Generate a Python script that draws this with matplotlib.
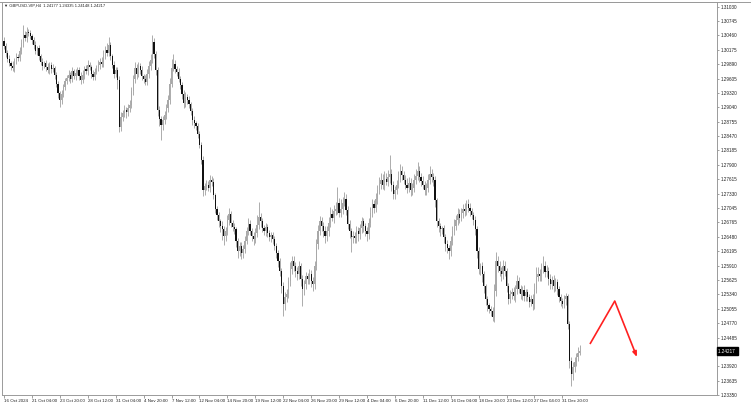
import numpy as np
import matplotlib.pyplot as plt
from matplotlib.transforms import blended_transform_factory

# GBPUSD H4 closes (bar index 0 = 16 Oct 2024)
first_open = 1.3035
closes = [
    1.3025, 1.3012, 1.3000, 1.2991, 1.2986, 1.2982, 1.2995, 1.3004, 1.3002, 1.3015,
    1.3030, 1.3047, 1.3040, 1.3052, 1.3050, 1.3044, 1.3036, 1.3027, 1.3015, 1.3020,
    1.3005, 1.2994, 1.2986, 1.2991, 1.2983, 1.2978, 1.2988, 1.2979, 1.2982, 1.2968,
    1.2950, 1.2932, 1.2919, 1.2930, 1.2944, 1.2955, 1.2962, 1.2968, 1.2960, 1.2975,
    1.2966, 1.2972, 1.2978, 1.2965, 1.2958, 1.2968, 1.2980, 1.2975, 1.2988, 1.2983,
    1.2970, 1.2964, 1.2974, 1.2982, 1.2988, 1.2994, 1.2990, 1.3005, 1.3017, 1.3012,
    1.3027, 1.3005, 1.2988, 1.2970, 1.2978, 1.2958, 1.2864, 1.2885, 1.2892, 1.2899,
    1.2894, 1.2903, 1.2909, 1.2935, 1.2960, 1.2982, 1.2970, 1.2985, 1.2978, 1.2965,
    1.2960, 1.2954, 1.2970, 1.2985, 1.2998, 1.3033, 1.3010, 1.2978, 1.2899, 1.2880,
    1.2869, 1.2878, 1.2889, 1.2902, 1.2919, 1.2950, 1.2982, 1.2990, 1.2980, 1.2974,
    1.2960, 1.2948, 1.2930, 1.2913, 1.2925, 1.2919, 1.2910, 1.2896, 1.2879, 1.2872,
    1.2866, 1.2850, 1.2830, 1.2800, 1.2741, 1.2748, 1.2751, 1.2745, 1.2760, 1.2757,
    1.2730, 1.2702, 1.2690, 1.2678, 1.2670, 1.2663, 1.2650, 1.2659, 1.2680, 1.2692,
    1.2675, 1.2668, 1.2663, 1.2640, 1.2619, 1.2630, 1.2615, 1.2623, 1.2640, 1.2660,
    1.2673, 1.2660, 1.2650, 1.2643, 1.2655, 1.2672, 1.2686, 1.2678, 1.2665, 1.2660,
    1.2667, 1.2655, 1.2648, 1.2652, 1.2643, 1.2630, 1.2615, 1.2600, 1.2580, 1.2550,
    1.2515, 1.2528, 1.2535, 1.2560, 1.2585, 1.2600, 1.2590, 1.2580, 1.2574, 1.2590,
    1.2565, 1.2545, 1.2555, 1.2570, 1.2564, 1.2575, 1.2560, 1.2554, 1.2590, 1.2633,
    1.2660, 1.2678, 1.2670, 1.2660, 1.2650, 1.2659, 1.2675, 1.2692, 1.2685, 1.2698,
    1.2702, 1.2715, 1.2695, 1.2702, 1.2715, 1.2722, 1.2700, 1.2673, 1.2660, 1.2647,
    1.2650, 1.2645, 1.2660, 1.2653, 1.2665, 1.2678, 1.2670, 1.2660, 1.2653, 1.2675,
    1.2695, 1.2712, 1.2705, 1.2722, 1.2740, 1.2752, 1.2761, 1.2750, 1.2762, 1.2757,
    1.2765, 1.2771, 1.2750, 1.2732, 1.2740, 1.2751, 1.2765, 1.2777, 1.2770, 1.2760,
    1.2751, 1.2745, 1.2755, 1.2740, 1.2745, 1.2760, 1.2768, 1.2777, 1.2765, 1.2758,
    1.2751, 1.2740, 1.2745, 1.2760, 1.2771, 1.2765, 1.2761, 1.2720, 1.2678, 1.2670,
    1.2663, 1.2665, 1.2648, 1.2633, 1.2625, 1.2619, 1.2640, 1.2659, 1.2670, 1.2680,
    1.2692, 1.2685, 1.2695, 1.2702, 1.2698, 1.2712, 1.2705, 1.2698, 1.2690, 1.2680,
    1.2663, 1.2620, 1.2584, 1.2590, 1.2574, 1.2550, 1.2525, 1.2512, 1.2505, 1.2501,
    1.2489, 1.2540, 1.2600, 1.2590, 1.2580, 1.2574, 1.2590, 1.2580, 1.2550, 1.2525,
    1.2535, 1.2538, 1.2530, 1.2545, 1.2560, 1.2545, 1.2535, 1.2542, 1.2530, 1.2538,
    1.2528, 1.2519, 1.2525, 1.2515, 1.2545, 1.2568, 1.2575, 1.2570, 1.2584, 1.2590,
    1.2578, 1.2580, 1.2565, 1.2554, 1.2562, 1.2550, 1.2558, 1.2545, 1.2529, 1.2520,
    1.2515, 1.2525, 1.2531, 1.2475, 1.2402, 1.2377, 1.2391, 1.2400, 1.2410, 1.2418,
    1.24217,
]

# upper / lower shadow length in pips beyond the candle body
wick_up = [
    8, 6, 5, 7, 4, 9, 6, 8, 5, 7, 9, 19, 8, 10, 6, 7, 5, 6, 8, 5,
    6, 4, 7, 5, 6, 8, 5, 6, 7, 4, 5, 6, 4, 8, 6, 7, 5, 9, 6, 8,
    5, 7, 6, 5, 8, 9, 6, 7, 10, 6, 5, 7, 8, 6, 9, 7, 10, 12, 8, 14,
    16, 6, 5, 7, 6, 5, 8, 10, 7, 9, 6, 8, 10, 9, 8, 12, 7, 9, 6, 8,
    5, 7, 9, 10, 12, 14, 8, 6, 5, 7, 6, 8, 7, 9, 10, 12, 17, 20, 8, 6,
    7, 5, 6, 8, 9, 6, 7, 5, 6, 8, 5, 6, 7, 5, 8, 6, 9, 7, 10, 8,
    6, 5, 7, 6, 5, 8, 6, 9, 10, 12, 7, 6, 8, 5, 6, 7, 8, 9, 10, 8,
    12, 7, 6, 8, 10, 18, 30, 9, 7, 6, 8, 6, 7, 5, 6, 7, 5, 6, 5, 6,
    8, 10, 9, 8, 12, 10, 9, 7, 8, 9, 6, 8, 7, 9, 6, 10, 7, 8, 9, 10,
    12, 10, 8, 7, 9, 10, 12, 14, 10, 12, 15, 32, 10, 20, 12, 15, 10, 8, 7, 6,
    9, 8, 10, 7, 8, 9, 7, 6, 8, 10, 12, 10, 8, 12, 10, 14, 12, 10, 16, 12,
    15, 39, 10, 8, 9, 10, 12, 14, 10, 8, 9, 12, 10, 8, 9, 12, 14, 18, 10, 8,
    9, 7, 10, 12, 16, 10, 9, 6, 5, 7, 6, 5, 7, 6, 8, 6, 9, 10, 12, 10,
    12, 10, 9, 10, 12, 8, 10, 9, 7, 6, 8, 6, 7, 5, 8, 6, 5, 6, 4, 5,
    8, 14, 18, 10, 9, 8, 12, 10, 6, 7, 8, 9, 10, 8, 12, 9, 7, 8, 10, 6,
    7, 6, 8, 10, 12, 20, 14, 10, 12, 20, 10, 12, 8, 9, 8, 10, 9, 7, 6, 5,
    6, 7, 5, 4, 6, 8, 9, 10, 8, 12, 12,
]
wick_dn = [
    6, 8, 7, 5, 9, 6, 8, 5, 7, 6, 5, 7, 6, 8, 5, 6, 7, 9, 6, 8,
    7, 6, 8, 5, 7, 6, 9, 7, 6, 8, 7, 9, 15, 8, 6, 7, 5, 6, 8, 7,
    6, 8, 5, 7, 9, 6, 8, 6, 7, 5, 8, 6, 7, 5, 6, 8, 7, 6, 5, 7,
    6, 8, 7, 9, 6, 18, 10, 8, 9, 7, 12, 8, 9, 7, 6, 8, 10, 7, 9, 8,
    9, 7, 6, 8, 7, 6, 8, 10, 12, 14, 29, 10, 8, 9, 7, 8, 6, 7, 9, 8,
    7, 8, 9, 10, 8, 9, 7, 8, 10, 9, 8, 7, 6, 9, 12, 10, 8, 7, 9, 8,
    7, 8, 9, 10, 12, 21, 18, 10, 8, 9, 8, 9, 10, 12, 14, 10, 12, 9, 8, 7,
    9, 8, 10, 12, 8, 7, 9, 10, 8, 9, 10, 8, 9, 11, 10, 8, 9, 12, 10, 14,
    24, 12, 10, 8, 9, 10, 9, 11, 12, 10, 14, 34, 12, 10, 9, 10, 12, 14, 10, 8,
    9, 8, 10, 12, 14, 10, 9, 8, 7, 9, 8, 10, 9, 8, 10, 7, 9, 10, 14, 30,
    12, 10, 9, 14, 10, 9, 12, 10, 14, 9, 8, 9, 10, 8, 9, 7, 10, 8, 9, 7,
    9, 10, 12, 10, 9, 8, 7, 9, 10, 8, 9, 10, 8, 12, 10, 9, 8, 7, 9, 10,
    8, 10, 9, 8, 7, 9, 12, 14, 10, 12, 14, 10, 12, 14, 10, 16, 9, 8, 7, 9,
    8, 9, 7, 10, 9, 8, 9, 10, 8, 9, 12, 14, 10, 12, 16, 14, 12, 10, 8, 10,
    8, 9, 10, 12, 10, 14, 9, 10, 12, 10, 9, 10, 8, 12, 10, 9, 10, 12, 9, 10,
    8, 10, 9, 12, 10, 9, 8, 10, 9, 8, 9, 10, 12, 10, 9, 11, 10, 12, 10, 9,
    8, 9, 12, 10, 14, 24, 12, 10, 8, 7, 3,
]

date_labels = ['16 Oct 2024', '21 Oct 04:00', '23 Oct 20:00', '28 Oct 12:00', '31 Oct 04:00',
               '4 Nov 20:00', '7 Nov 12:00', '12 Nov 04:00', '14 Nov 20:00', '19 Nov 12:00',
               '22 Nov 04:00', '26 Nov 20:00', '29 Nov 12:00', '4 Dec 04:00', '6 Dec 20:00',
               '11 Dec 12:00', '16 Dec 04:00', '18 Dec 20:00', '23 Dec 12:00', '27 Dec 04:00',
               '31 Dec 20:00']
price_ticks = [1.31030, 1.30745, 1.30460, 1.30175, 1.29890, 1.29605, 1.29320, 1.29040,
               1.28755, 1.28470, 1.28185, 1.27900, 1.27615, 1.27330, 1.27045, 1.26765,
               1.26480, 1.26195, 1.25910, 1.25625, 1.25340, 1.25055, 1.24770, 1.24485,
               1.23920, 1.23635, 1.23350]

# projected path drawn in red (bar index, price)
arrow_x = [335.8, 350.0, 362.7]
arrow_y = [1.24358, 1.25207, 1.24101]

closes = np.array(closes)
opens = np.concatenate([[first_open], closes[:-1]])
idx = np.arange(len(closes))
top = np.maximum(opens, closes)
bot = np.minimum(opens, closes)
highs = top + np.array(wick_up) * 1e-4
lows = bot - np.array(wick_dn) * 1e-4

fig = plt.figure(figsize=(7.51, 4.05), dpi=100)
ax = fig.add_axes([2 / 751, 10 / 405, 715 / 751, 393 / 405])
font = 'Liberation Sans'

up = closes >= opens
body = np.maximum(top - bot, 0.00006)
ax.vlines(idx, lows, highs, color='#8c8c8c', lw=0.5, zorder=2)
ax.bar(idx[up], body[up], bottom=bot[up], width=0.7,
       color='#a8a8a8', linewidth=0, zorder=3)
ax.bar(idx[~up], body[~up], bottom=bot[~up], width=0.7,
       color='#111111', linewidth=0, zorder=3)

# red projection
ax.plot(arrow_x[:2], arrow_y[:2], color='#ff2020', lw=1.2, solid_capstyle='butt')
ax.annotate('', xy=(arrow_x[2], arrow_y[2]), xytext=(arrow_x[1], arrow_y[1]),
            arrowprops=dict(arrowstyle='-|>,head_length=0.3,head_width=0.12',
                            color='#ff2020', lw=1.2, shrinkA=0, shrinkB=0))

ax.set_xlim(-1.15, 408.6)
ax.set_ylim(1.23370, 1.31119)

ax.yaxis.tick_right()
ax.set_yticks(price_ticks)
ax.set_yticklabels([f'{p:.5f}' for p in price_ticks], fontsize=3.3, family=font, color='#222222')
ax.tick_params(axis='y', length=1.5, width=0.4, pad=1, color='#555555')
ax.set_xticks(np.arange(len(date_labels)) * 16)
ax.set_xticklabels(date_labels, fontsize=3.2, family=font, ha='left', color='#222222')
ax.tick_params(axis='x', length=2, width=0.4, pad=0.8, color='#555555')

for s in ax.spines.values():
    s.set_color('#9a9a9a')
    s.set_linewidth(0.7)

# header and current price marker
ax.text(0.003, 0.995, '\u25bc GBPUSD-VIP,H4  1.24177 1.24335 1.24148 1.24217',
        transform=ax.transAxes, fontsize=3.0, family=font, va='top', ha='left', color='#222222')
tr = blended_transform_factory(ax.transAxes, ax.transData)
ax.text(1.002, closes[-1], '1.24217 ', transform=tr, fontsize=3.3, family=font,
        color='white', va='center', ha='left',
        bbox=dict(boxstyle='square,pad=0.35', fc='black', ec='black'))

fig.add_artist(plt.Line2D([0, 1], [1 - 1.5 / 405] * 2, color='#9a9a9a', lw=0.7))

fig.savefig('out.png', dpi=100, facecolor='white')
